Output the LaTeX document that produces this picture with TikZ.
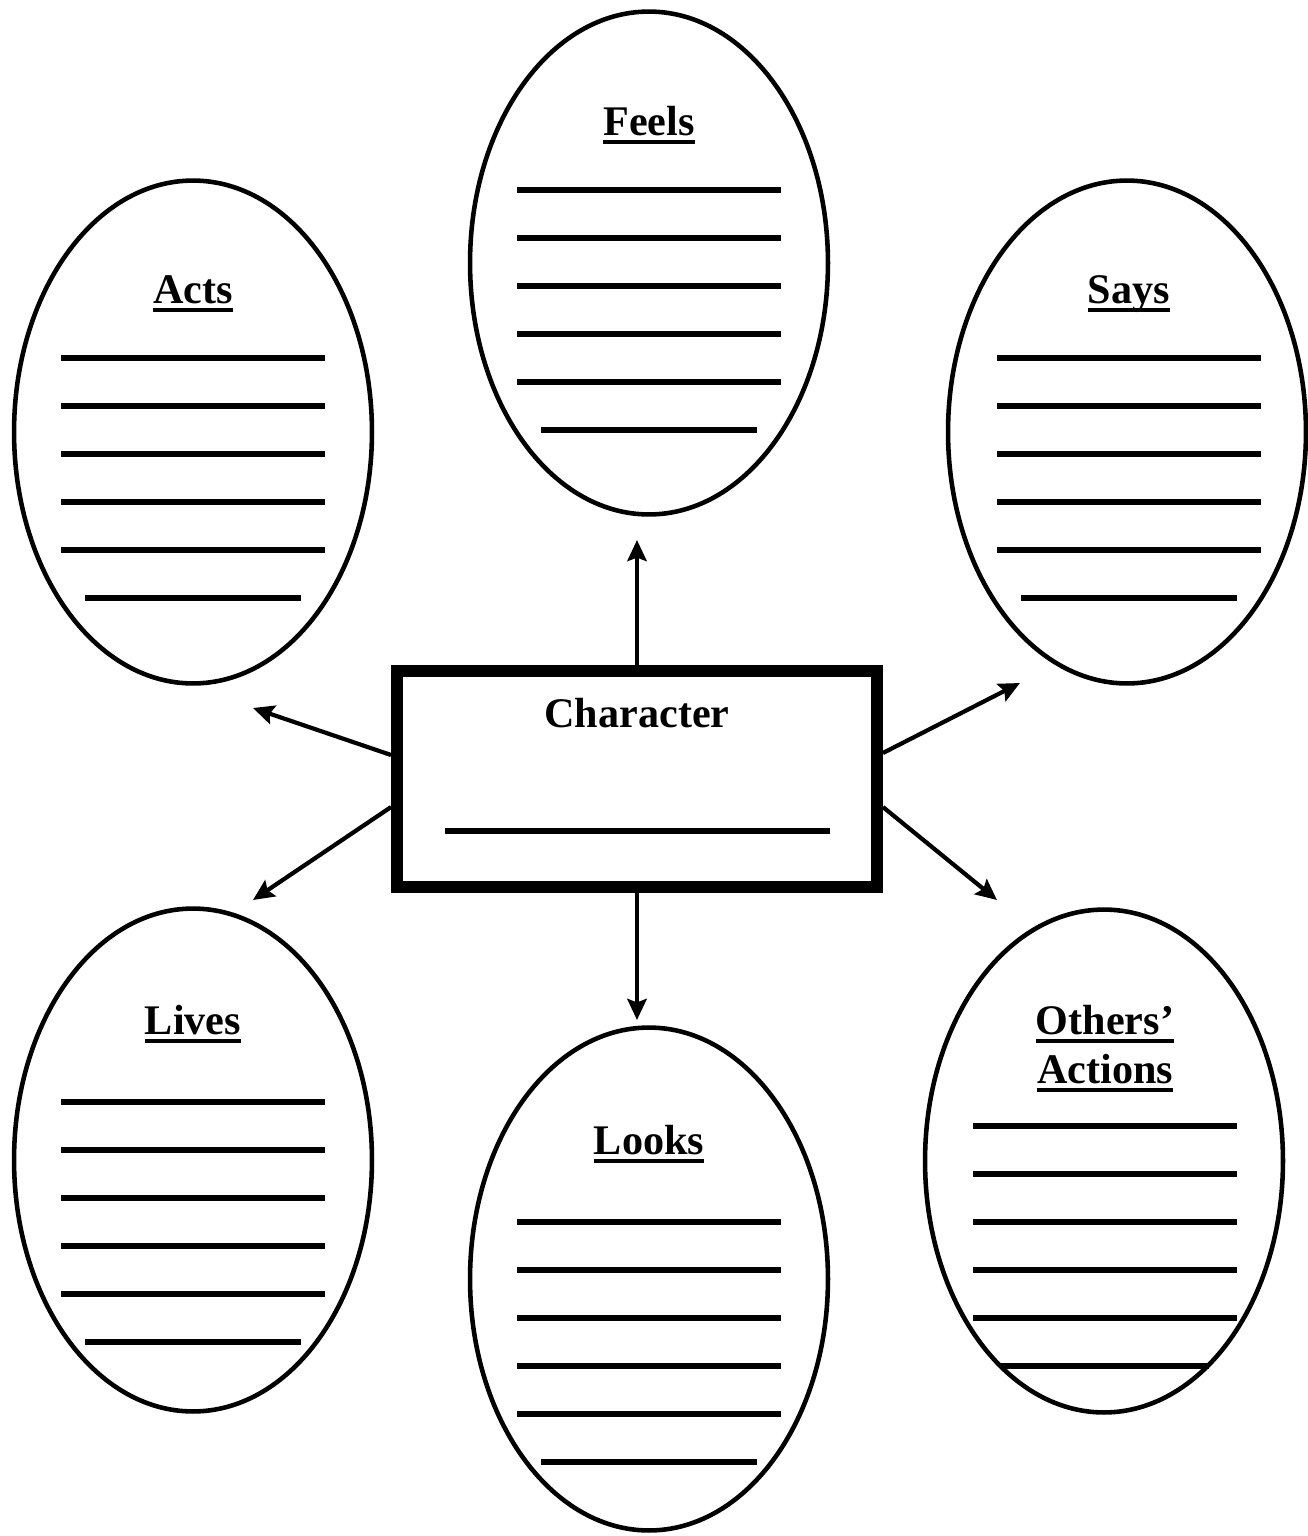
\documentclass[tikz,border=0pt]{standalone}
\usepackage{fontspec}
\setmainfont{Liberation Serif}
\usepackage{tikz}
\usetikzlibrary{shapes.geometric,arrows.meta}
\newcommand{\ulhead}[1]{\setbox0\hbox{#1}\rlap{\rule[-5pt]{\wd0}{2.1pt}}\box0}
\tikzstyle{bubble}=[ellipse,draw,line width=2.6pt,minimum width=7.16cm,minimum height=10.06cm,inner sep=0pt]
\tikzstyle{title}=[anchor=base,inner sep=0pt,font=\fontsize{24}{29}\selectfont\bfseries]
\tikzstyle{blank}=[line width=2.9pt]
\tikzstyle{line} = [draw, line width=2.4pt, -{Stealth[length=12pt,width=11pt,inset=2pt]}]

\begin{document}
\begin{tikzpicture}[x=0.02cm,y=-0.02cm]
  \useasboundingbox (0,0) rectangle (1308,1536);
  % bubbles
  \node[bubble] (feels)  at (649,263)  {};
  \node[bubble] (acts)   at (193,432)  {};
  \node[bubble] (says)   at (1127,432) {};
  \node[bubble] (lives)  at (193,1160) {};
  \node[bubble] (looks)  at (649,1279) {};
  \node[bubble] (others) at (1104,1161) {};
  % headers
  \node[title] (feelslabel)   at (649,135)  {\ulhead{Feels}};
  \node[title] (actslabel)    at (193,303)  {\ulhead{Acts}};
  \node[title] (sayslabel)    at (1129,303) {\ulhead{Says}};
  \node[title] (liveslabel)   at (193,1034) {\ulhead{Lives}};
  \node[title] (lookslabel)   at (649,1154) {\ulhead{Looks}};
  \node[title] (otherslabel)  at (1105,1034) {\ulhead{Others’}};
  \node[title] (actionslabel) at (1105,1083) {\ulhead{Actions}};
  % centre box
  \node[draw,line width=6.8pt,minimum width=9.6cm,minimum height=4.32cm,inner sep=0pt] (char) at (637,779) {};
  \node[title] (charlabel) at (637,727) {Character};
  \draw[blank] (445,831) -- (830,831);
  % blanks: feels
  \draw[blank] (517,190) -- (781,190);
  \draw[blank] (517,238) -- (781,238);
  \draw[blank] (517,286) -- (781,286);
  \draw[blank] (517,334) -- (781,334);
  \draw[blank] (517,382) -- (781,382);
  \draw[blank] (541,430) -- (757,430);
  % blanks: acts
  \draw[blank] (61,358) -- (325,358);
  \draw[blank] (61,406) -- (325,406);
  \draw[blank] (61,454) -- (325,454);
  \draw[blank] (61,502) -- (325,502);
  \draw[blank] (61,550) -- (325,550);
  \draw[blank] (85,598) -- (301,598);
  % blanks: says
  \draw[blank] (997,358) -- (1261,358);
  \draw[blank] (997,406) -- (1261,406);
  \draw[blank] (997,454) -- (1261,454);
  \draw[blank] (997,502) -- (1261,502);
  \draw[blank] (997,550) -- (1261,550);
  \draw[blank] (1021,598) -- (1237,598);
  % blanks: lives
  \draw[blank] (61,1102) -- (325,1102);
  \draw[blank] (61,1150) -- (325,1150);
  \draw[blank] (61,1198) -- (325,1198);
  \draw[blank] (61,1246) -- (325,1246);
  \draw[blank] (61,1294) -- (325,1294);
  \draw[blank] (85,1342) -- (301,1342);
  % blanks: looks
  \draw[blank] (517,1222) -- (781,1222);
  \draw[blank] (517,1270) -- (781,1270);
  \draw[blank] (517,1318) -- (781,1318);
  \draw[blank] (517,1366) -- (781,1366);
  \draw[blank] (517,1414) -- (781,1414);
  \draw[blank] (541,1462) -- (757,1462);
  % blanks: others
  \draw[blank] (973,1126) -- (1237,1126);
  \draw[blank] (973,1174) -- (1237,1174);
  \draw[blank] (973,1222) -- (1237,1222);
  \draw[blank] (973,1270) -- (1237,1270);
  \draw[blank] (973,1318) -- (1237,1318);
  \draw[blank] (1001,1366) -- (1209,1366);
  % arrows
  \coordinate (tofeels)  at (637,540);
  \coordinate (tolooks)  at (637,1020);
  \coordinate (toacts)   at (253,708);
  \coordinate (tolives)  at (253,900);
  \coordinate (tosays)   at (1020,683);
  \coordinate (toothers) at (997,900);
  \path [line] (char.north) -- (tofeels);
  \path [line] (char.south) -- (tolooks);
  \path [line] ([shift={(0,-24)}]char.west) -- (toacts);
  \path [line] ([shift={(0,28)}]char.west) -- (tolives);
  \path [line] ([shift={(0,-26)}]char.east) -- (tosays);
  \path [line] ([shift={(0,28)}]char.east) -- (toothers);
\end{tikzpicture}
\end{document}
